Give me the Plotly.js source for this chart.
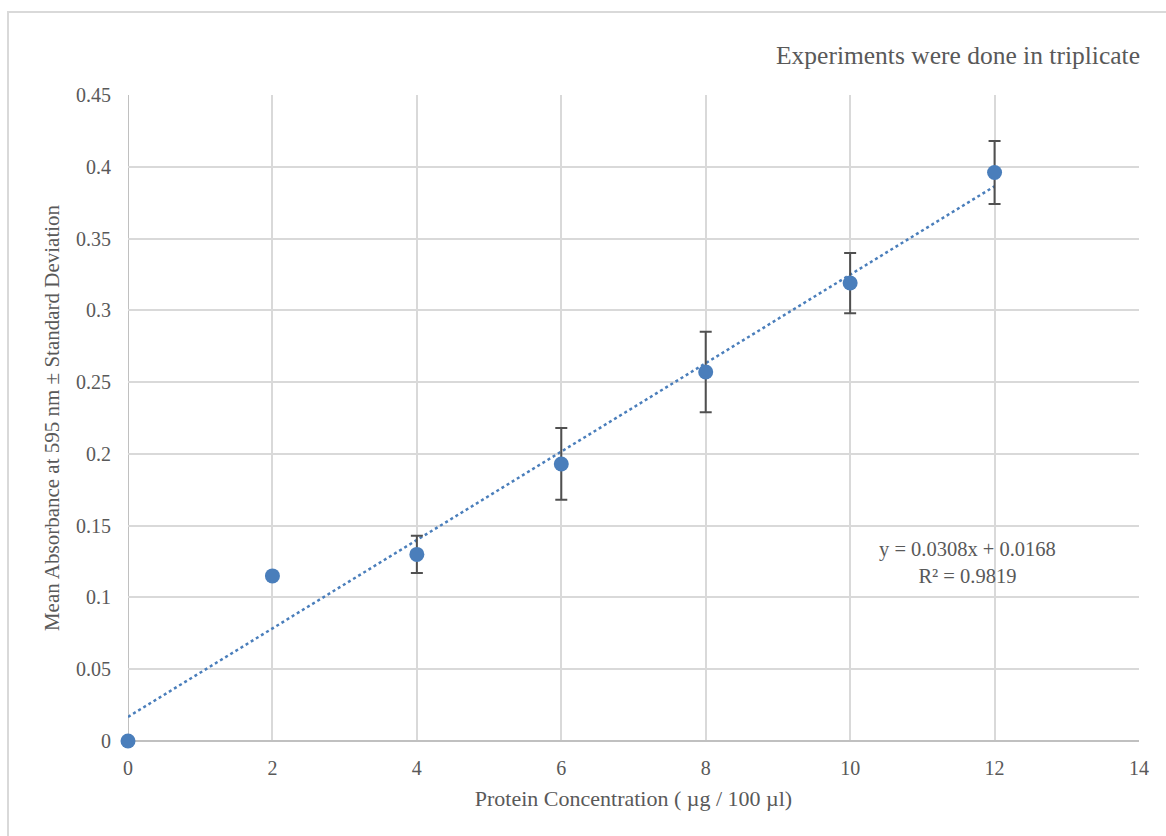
<!DOCTYPE html>
<html><head><meta charset="utf-8">
<script src="https://cdn.plot.ly/plotly-3.0.1.min.js"></script>
<style>
html,body{margin:0;padding:0;background:#fff;overflow:hidden;}
#frame{position:absolute;left:7px;top:11px;width:1200px;height:900px;border:2px solid #d9d9d9;box-sizing:border-box;}
#chart{position:absolute;left:0;top:0;width:1166px;height:836px;}
</style></head>
<body>
<div id="frame"></div>
<div id="chart"></div>
<script>
const concentration = [0, 2, 4, 6, 8, 10, 12];
const meanAbsorbance = [0, 0.115, 0.130, 0.193, 0.257, 0.319, 0.396];
const stdDev = [null, null, 0.013, 0.025, 0.028, 0.021, 0.022];
const trendSlope = 0.0308;
const trendIntercept = 0.0168;
const trendRange = [0, 12];
const equationLines = ["y = 0.0308x + 0.0168", "R² = 0.9819"];
const noteText = "Experiments were done in triplicate";

const blue = '#4a7ebb';
const font = '"Liberation Serif", "Times New Roman", serif';

const traces = [
  {
    x: trendRange,
    y: trendRange.map(v => trendSlope * v + trendIntercept),
    mode: 'lines',
    line: {color: blue, width: 2.5, dash: 'dot'},
    hoverinfo: 'skip',
    showlegend: false
  },
  {
    x: concentration,
    y: meanAbsorbance,
    mode: 'markers',
    marker: {color: blue, size: 15},
    error_y: {type: 'data', array: stdDev, visible: true, color: '#505050', thickness: 2, width: 6},
    showlegend: false,
    cliponaxis: false
  }
];

const pw = 1166 - 128 - 27, ph = 836 - 95 - 95;

const layout = {
  width: 1166, height: 836,
  paper_bgcolor: 'rgba(0,0,0,0)',
  plot_bgcolor: 'rgba(0,0,0,0)',
  margin: {l: 128, r: 27, t: 95, b: 95},
  font: {family: font, color: '#595959', size: 20},
  xaxis: {
    range: [0, 14], dtick: 2, tick0: 0,
    showgrid: true, gridcolor: '#d9d9d9', gridwidth: 2,
    zeroline: false, showline: false,
    ticks: 'outside', ticklen: 9, tickcolor: 'rgba(0,0,0,0)',
    tickfont: {family: font, size: 20, color: '#595959'},
    title: {text: 'Protein Concentration ( µg / 100 µl)', font: {family: font, size: 22, color: '#595959'}, standoff: 12}
  },
  yaxis: {
    range: [0, 0.45], dtick: 0.05, tick0: 0,
    showgrid: true, gridcolor: '#d9d9d9', gridwidth: 2,
    zeroline: true, zerolinecolor: '#c0c0c0', zerolinewidth: 2,
    showline: false,
    ticks: 'outside', ticklen: 12, tickcolor: 'rgba(0,0,0,0)',
    tickfont: {family: font, size: 20, color: '#595959'},
    title: {text: 'Mean Absorbance at 595 nm ± Standard Deviation', font: {family: font, size: 21, color: '#595959'}, standoff: 10}
  },
  shapes: [
    {type: 'line', xref: 'x', yref: 'paper', x0: 0, x1: 0, y0: 0, y1: 1, line: {color: '#c0c0c0', width: 2}, layer: 'below'}
  ],
  annotations: [
    {text: equationLines.join('<br>'), x: 11.62, y: 0.1245, xref: 'x', yref: 'y', showarrow: false,
     font: {family: font, size: 20.5, color: '#595959'}, align: 'center'},
    {text: noteText, x: (1142 - 128) / pw, y: (741 - 56) / ph, xref: 'paper', yref: 'paper', showarrow: false,
     font: {family: font, size: 25.5, color: '#595959'}, xanchor: 'right', yanchor: 'middle'}
  ]
};

Plotly.newPlot('chart', traces, layout, {displayModeBar: false, staticPlot: true});
</script>
</body></html>
